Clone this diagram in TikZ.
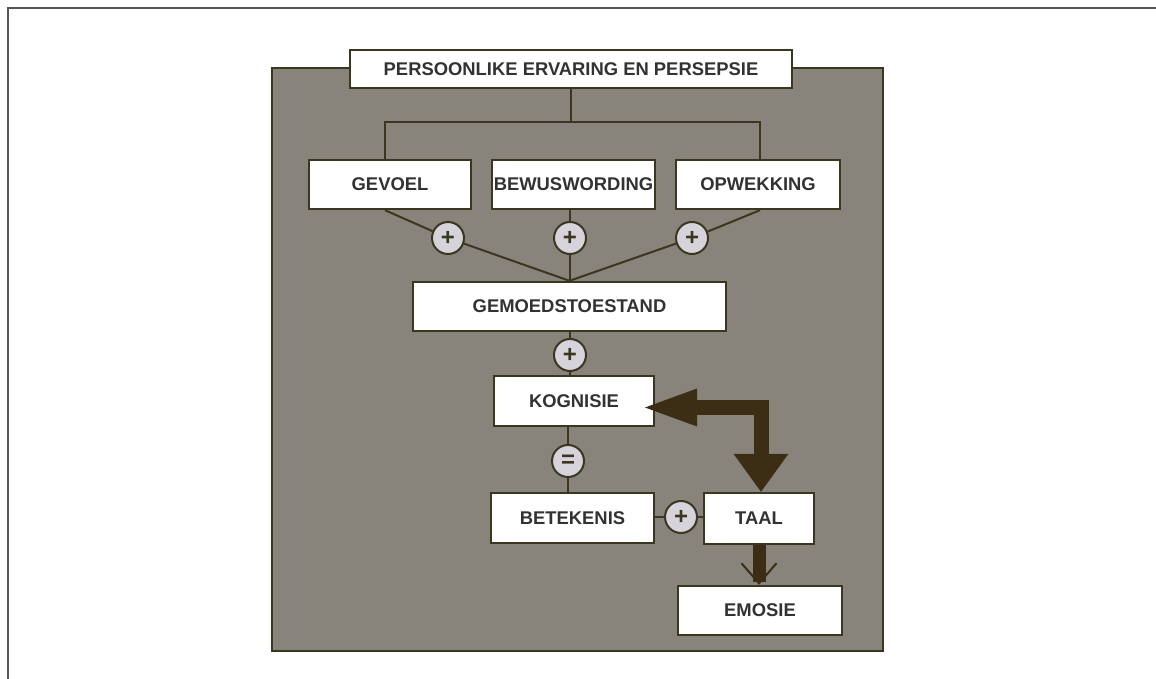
\documentclass[tikz,border=0pt]{standalone}
\usepackage{fontspec}
\setmainfont{Liberation Sans}
\usetikzlibrary{arrows.meta}

\definecolor{panelgray}{RGB}{136,132,124}
\definecolor{linebrown}{RGB}{58,54,32}
\definecolor{arrowbrown}{RGB}{60,46,20}
\definecolor{circlefill}{RGB}{214,212,218}
\definecolor{textgray}{RGB}{50,50,50}
\definecolor{framegray}{RGB}{85,85,85}

\tikzset{
  box/.style={draw=linebrown, fill=white, line width=1.2pt, minimum height=24.5pt,
    inner sep=0pt, text=textgray, font=\fontsize{9.2}{11}\selectfont\bfseries},
  opnode/.style={circle, draw=linebrown, fill=circlefill, line width=1pt,
    minimum size=16pt, inner sep=0pt, text=linebrown,
    font=\fontsize{12}{12}\selectfont\bfseries},
  link/.style={draw=linebrown, line width=1pt},
  bigarrow/.style={draw=arrowbrown, line width=7.5pt, line join=miter,
    arrows={Triangle[line width=0pt,length=26pt,width=19pt]-Triangle[line width=0pt,length=19pt,width=27.5pt]}},
  smallarrow/.style={draw=arrowbrown, line width=6.5pt,
    arrows={-Straight Barb[line width=1pt,length=10pt,width=17.5pt]}},
}

\begin{document}
\begin{tikzpicture}[x=0.5pt, y=-0.5pt]
  \useasboundingbox (0,0) rectangle (1156,679);
  % Draw the page frame and the gray panel
  \draw[framegray, line width=1.2pt] (8,679) -- (8,8) -- (1156,8);
  \filldraw[fill=panelgray, draw=linebrown, line width=1.2pt] (272,68) rectangle (883,651);

  % Draw the boxes
  \begin{scope}
    \node[box, minimum width=221pt, minimum height=19pt] (title) at (571,69) {PERSOONLIKE ERVARING EN PERSEPSIE};
    \node[box, minimum width=81pt] (gevoel) at (390,184.5) {GEVOEL};
    \node[box, minimum width=81.5pt] (bewus) at (573.5,184.5) {BEWUSWORDING};
    \node[box, minimum width=82pt] (opwek) at (758,184.5) {OPWEKKING};
    \node[box, minimum width=156.5pt] (gemoed) at (569.5,306.5) {GEMOEDSTOESTAND};
    \node[box, minimum width=80pt, minimum height=25pt] (kognisie) at (574,401) {KOGNISIE};
    \node[box, minimum width=81.5pt, minimum height=25pt] (betekenis) at (572.5,518) {BETEKENIS};
    \node[box, minimum width=55pt, minimum height=25.5pt] (taal) at (759,518.5) {TAAL};
    \node[box, minimum width=82pt] (emosie) at (760,610.5) {EMOSIE};
  \end{scope}

  % Draw the plus and equals circles
  \begin{scope}
    \node[opnode] (plusA) at (448,238) {+};
    \node[opnode] (plusB) at (570,238) {+};
    \node[opnode] (plusC) at (692,238) {+};
    \node[opnode] (plusD) at (570,355) {+};
    \node[opnode] (equal) at (568,461) {=};
    \node[opnode] (plusE) at (681,517) {+};
  \end{scope}

  % Draw the connectors
  \coordinate (barL) at (385,122);
  \coordinate (barR) at (760,122);
  \begin{scope}[link]
    \draw (title.south) -- (title.south |- barL);
    \draw (gevoel.north -| barL) -- (barL) -- (barR) -- (opwek.north -| barR);
    \draw (gevoel.south -| barL) -- (plusA) -- (gemoed.north);
    \draw (bewus.south -| plusB) -- (plusB) -- (gemoed.north -| plusB);
    \draw (opwek.south -| barR) -- (plusC) -- (gemoed.north);
    \draw (gemoed.south -| plusD) -- (plusD) -- (kognisie.north -| plusD);
    \draw (kognisie.south -| equal) -- (equal) -- (betekenis.north -| equal);
    \draw (betekenis.east |- plusE) -- (plusE) -- (taal.west |- plusE);
  \end{scope}

  % Draw the thick arrows
  \coordinate (tipK) at (645,407.5);
  \coordinate (bend) at (761,407.5);
  \draw[bigarrow] (tipK) -- (bend) -- (bend |- taal.north);
  \draw[smallarrow] (taal.south) -- (emosie.north -| taal.south);
\end{tikzpicture}
\end{document}
